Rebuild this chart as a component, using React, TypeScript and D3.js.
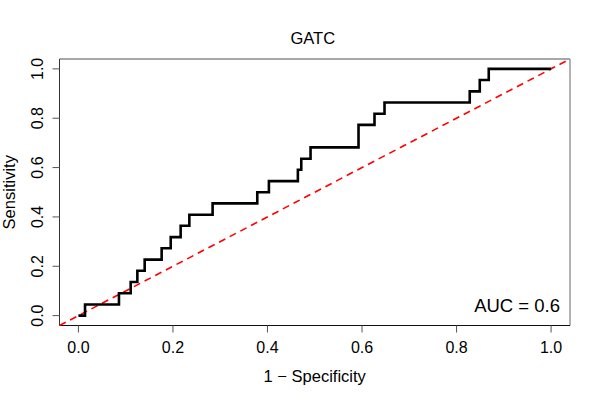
import { useEffect, useRef } from 'react';
import * as d3 from 'd3';

const title = 'GATC';
const xLabel = '1 \u2212 Specificity';
const yLabel = 'Sensitivity';
const aucLabel = 'AUC = 0.6';

// ROC points: 1 - specificity and the sensitivity reached at that point
const falsePositiveRate = [
    0, 0.014, 0.0858, 0.1106, 0.1247, 0.1402, 0.1761, 0.1953, 0.2163, 0.2347, 0.2839, 0.3784,
    0.403, 0.4643, 0.4715, 0.4911, 0.5926, 0.6264, 0.6476, 0.8279, 0.8491, 0.8681, 1.0,
];
const sensitivity = [
    0, 0.045, 0.091, 0.136, 0.182, 0.227, 0.273, 0.318, 0.364, 0.409, 0.455, 0.5,
    0.545, 0.591, 0.636, 0.682, 0.773, 0.818, 0.864, 0.909, 0.955, 1, 1,
];
const tickValues = [0, 0.2, 0.4, 0.6, 0.8, 1.0];

export default function App() {
    const ref = useRef<SVGSVGElement | null>(null);

    useEffect(() => {
        if (!ref.current) return;
        const svg = d3.select(ref.current);
        svg.selectAll('*').remove();

        const width = 600;
        const height = 400;
        const left = 59.5;
        const right = 570;
        const top = 59;
        const bottom = 325.5;
        const font = '"Liberation Sans", Arial, Helvetica, sans-serif';

        svg.attr('width', width).attr('height', height);

        // R style: 4% padding on each side
        const x = d3.scaleLinear().domain([-0.04, 1.04]).range([left, right]);
        const y = d3.scaleLinear().domain([-0.04, 1.04]).range([bottom, top]);

        // box (top/right come out lighter in the original)
        svg.append('line').attr('x1', left).attr('x2', right).attr('y1', top).attr('y2', top)
            .attr('stroke', '#8a8a8a').attr('stroke-width', 1.3);
        svg.append('line').attr('x1', right).attr('x2', right).attr('y1', top).attr('y2', bottom)
            .attr('stroke', '#8a8a8a').attr('stroke-width', 1.3);
        svg.append('line').attr('x1', left).attr('x2', right).attr('y1', bottom).attr('y2', bottom)
            .attr('stroke', '#111').attr('stroke-width', 1);
        svg.append('line').attr('x1', left).attr('x2', left).attr('y1', top).attr('y2', bottom)
            .attr('stroke', '#333').attr('stroke-width', 1);

        // x axis ticks + labels
        const xt = svg.append('g');
        tickValues.forEach((t) => {
            xt.append('line')
                .attr('x1', x(t)).attr('x2', x(t))
                .attr('y1', bottom).attr('y2', bottom + 7)
                .attr('stroke', '#555');
            xt.append('text')
                .attr('x', x(t)).attr('y', 353)
                .attr('text-anchor', 'middle')
                .style('font-family', font)
                .style('font-size', '16px')
                .text(t.toFixed(1));
        });

        // y axis ticks + labels
        const yt = svg.append('g');
        tickValues.forEach((t) => {
            yt.append('line')
                .attr('x1', left - 7).attr('x2', left)
                .attr('y1', y(t)).attr('y2', y(t))
                .attr('stroke', '#555');
            yt.append('text')
                .attr('transform', `translate(43, ${y(t)}) rotate(-90)`)
                .attr('text-anchor', 'middle')
                .style('font-family', font)
                .style('font-size', '16px')
                .text(t.toFixed(1));
        });

        // diagonal reference line
        svg.append('line')
            .attr('x1', x(-0.04)).attr('y1', y(-0.04))
            .attr('x2', x(1.04)).attr('y2', y(1.04))
            .attr('stroke', '#ff0000')
            .attr('stroke-width', 1.6)
            .attr('stroke-dasharray', '7,5');

        // ROC curve
        const points: [number, number][] = falsePositiveRate.map((f, i) => [f, sensitivity[i]]);
        const line = d3.line<[number, number]>()
            .x((d) => x(d[0]))
            .y((d) => y(d[1]))
            .curve(d3.curveStepAfter);
        svg.append('path')
            .attr('d', line(points))
            .attr('fill', 'none')
            .attr('stroke', '#000')
            .attr('stroke-width', 2.6);

        // texts
        svg.append('text')
            .attr('x', (left + right) / 2 - 2).attr('y', 43.5)
            .attr('text-anchor', 'middle')
            .style('font-family', font)
            .style('font-size', '16.5px')
            .text(title);
        svg.append('text')
            .attr('x', (left + right) / 2).attr('y', 382)
            .attr('text-anchor', 'middle')
            .style('font-family', font)
            .style('font-size', '16.5px')
            .text(xLabel);
        svg.append('text')
            .attr('transform', `translate(15, ${(top + bottom) / 2}) rotate(-90)`)
            .attr('text-anchor', 'middle')
            .style('font-family', font)
            .style('font-size', '16.5px')
            .text(yLabel);
        svg.append('text')
            .attr('x', 560).attr('y', 311.5)
            .attr('text-anchor', 'end')
            .style('font-family', font)
            .style('font-size', '18.5px')
            .text(aucLabel);
    }, []);

    return <svg ref={ref} style={{ display: 'block', position: 'absolute', left: 0, top: 0 }} />;
}
